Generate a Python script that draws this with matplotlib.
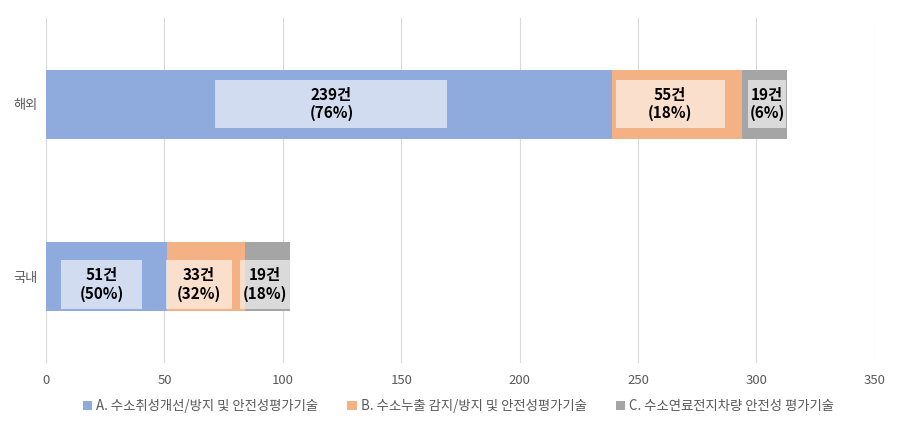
import matplotlib
matplotlib.use('Agg')
import matplotlib.pyplot as plt
from matplotlib.patches import Rectangle

plt.rcParams['font.family'] = ['Noto Sans CJK KR', 'DejaVu Sans']

# data
regions = ['국내', '해외']
series_names = ['A. 수소취성개선/방지 및 안전성평가기술',
                'B. 수소누출 감지/방지 및 안전성평가기술',
                'C. 수소연료전지차량 안전성 평가기술']
counts = [[51, 239],   # A
          [33, 55],    # B
          [19, 19]]    # C
percents = [[50, 76],
            [32, 18],
            [18, 6]]

colors = ['#8FAADC', '#F4B183', '#A5A5A5']
# label box widths / x shifts in data units (per series, per region)
box_w = [[34, 98], [28, 46], [21, 16]]
box_dx = [[-2, 1], [-3, -3], [-1, 1]]
box_h = 0.28
y_off = [-0.045, 0.0]

fig = plt.figure(figsize=(8.99, 4.25), dpi=100)
ax = fig.add_axes([0.0512, 0.146, 0.922, 0.812])

left = [0, 0]
for s in range(3):
    ax.barh(range(len(regions)), counts[s], left=left, height=0.4,
            color=colors[s], label=series_names[s], zorder=2)
    for r in range(len(regions)):
        cx = left[r] + counts[s][r] / 2 + box_dx[s][r]
        cy = r + y_off[r]
        w = box_w[s][r]
        x0 = cx - w / 2
        x1 = min(cx + w / 2, left[r] + counts[s][r])
        ax.add_patch(Rectangle((x0, cy - box_h / 2), x1 - x0, box_h,
                               facecolor='white', alpha=0.6, lw=0, zorder=3))
        ax.text(cx, cy, '%d건\n(%d%%)' % (counts[s][r], percents[s][r]),
                ha='center', va='center', fontsize=11, fontweight='bold',
                color='black', linespacing=1.15, zorder=4)
    left = [left[i] + counts[s][i] for i in range(len(regions))]

ax.set_xlim(0, 350)
ax.set_ylim(-0.5, 1.5)
ax.set_xticks(range(0, 351, 50))
ax.set_yticks(range(len(regions)))
ax.set_yticklabels(regions)
ax.tick_params(length=0, labelsize=9.5, colors='#595959', pad=8)
ax.tick_params(axis='y', pad=6)
ax.grid(axis='x', color='#D9D9D9', lw=0.8, zorder=0)
ax.set_axisbelow(True)
for sp in ax.spines.values():
    sp.set_visible(False)

fig.legend(loc='lower center', ncol=3, frameon=False, fontsize=9.6,
           handlelength=0.7, handleheight=0.7, handletextpad=0.3,
           columnspacing=2.2, bbox_to_anchor=(0.51, 0.0),
           labelcolor='#595959')

plt.savefig('out.png', dpi=100)
